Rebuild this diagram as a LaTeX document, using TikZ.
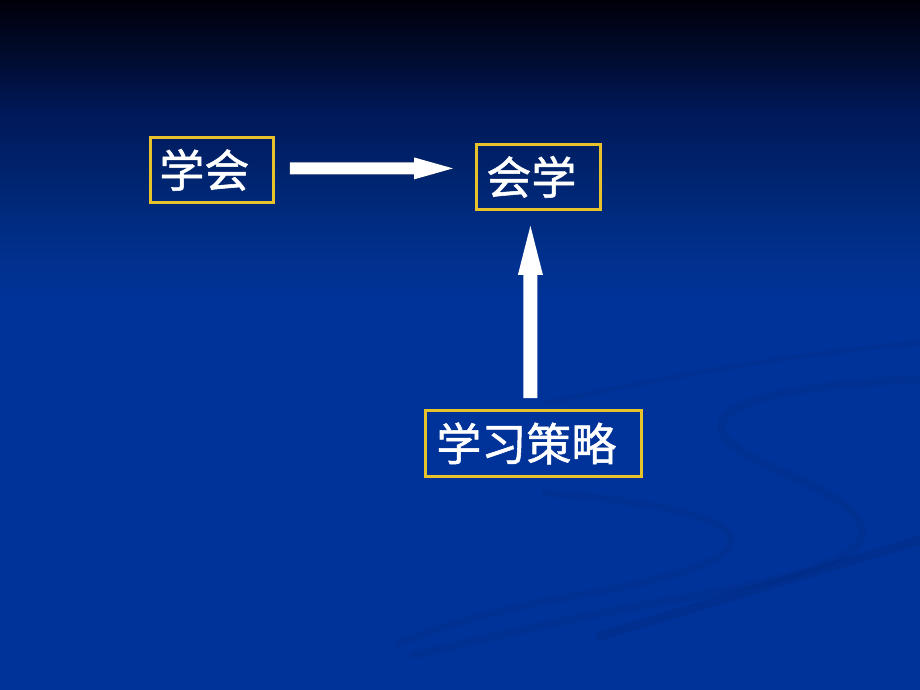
\documentclass[tikz,border=0pt]{standalone}
\usepackage{fontspec}
\newfontfamily\cjk[FakeBold=1.2]{Noto Sans CJK SC}
\usetikzlibrary{calc}
\definecolor{bgblue}{HTML}{003399}
\definecolor{bgA}{HTML}{00318F}
\definecolor{bgB}{HTML}{002570}
\definecolor{bgC}{HTML}{001858}
\definecolor{bgD}{HTML}{000A2A}
\definecolor{bgE}{HTML}{00000A}
\definecolor{boxgold}{HTML}{E8C22A}
\definecolor{swoosh}{HTML}{00287A}
\pgfdeclareverticalshading{bgshade}{100bp}{color(0bp)=(bgblue); color(25bp)=(bgblue); color(53bp)=(bgblue); color(56bp)=(bgA); color(62bp)=(bgB); color(67bp)=(bgC); color(71.4bp)=(bgD); color(75bp)=(bgE); color(100bp)=(bgE)}
\tikzset{
  box/.style={draw=boxgold, line width=2.8pt, anchor=north west, inner ysep=0pt,
    align=left, text=white, font=\cjk\fontsize{45}{50}\selectfont},
  sw/.style={draw=swoosh, line cap=round, opacity=0.22},
  blockarrow/.style={fill=white},
  arrowshadow/.style={fill=black!85!blue, opacity=0.8}
}
\begin{document}
\begin{tikzpicture}[x=1pt,y=-1pt]
\useasboundingbox (0,0) rectangle (920,690);
\shade[shading=bgshade] (0,0) rectangle (920,690);
% background swooshes
\draw[sw, line width=5pt] (545,403) .. controls (650,380) and (800,352) .. (920,343);
\draw[sw, line width=8pt] (920,379) .. controls (800,385) and (718,400) .. (721,428)
   .. controls (725,462) and (850,485) .. (862,528)
   .. controls (870,565) and (760,585) .. (655,603)
   .. controls (560,620) and (480,640) .. (414,655);
\draw[sw, line width=7pt] (545,493) .. controls (640,500) and (728,515) .. (731,540)
   .. controls (734,565) and (640,585) .. (552,600)
   .. controls (480,614) and (430,630) .. (397,644);
\draw[sw, line width=9pt, opacity=0.3] (600,636) .. controls (720,600) and (820,570) .. (920,540);
% boxes
\node[box, minimum height=65pt, text width=105pt, inner xsep=9pt] (xuehui) at (149,136) {学会};
\node[box, minimum height=65pt, text width=104pt, inner xsep=10pt] (huixue) at (475,143) {会学};
\node[box, minimum height=66pt, text width=194pt, inner xsep=11pt] (celue) at (424,409) {学习策略};
% horizontal arrow
\coordinate (h1) at ($(xuehui.east)+(15,-1.5)$);
\coordinate (h2t) at ($(huixue.west)+(-22,0)$);
\coordinate (h2) at (h2t |- h1);
\begin{scope}[shift={(2,2)}]
\fill[arrowshadow] ($(h1)+(0,-6)$) -- ($(h2)+(-39,-6)$) -- ($(h2)+(-39,-11)$) -- (h2)
  -- ($(h2)+(-39,11)$) -- ($(h2)+(-39,6)$) -- ($(h1)+(0,6)$) -- cycle;
\end{scope}
\fill[blockarrow] ($(h1)+(0,-6)$) -- ($(h2)+(-39,-6)$) -- ($(h2)+(-39,-11)$) -- (h2)
  -- ($(h2)+(-39,11)$) -- ($(h2)+(-39,6)$) -- ($(h1)+(0,6)$) -- cycle;
% vertical arrow
\coordinate (v1) at ($(celue.north)+(-3,-11)$);
\coordinate (v2t) at ($(huixue.south)+(0,15)$);
\coordinate (v2) at (v1 |- v2t);
\fill[blockarrow] ($(v1)+(-7,0)$) -- ($(v2)+(-7,49)$) -- ($(v2)+(-12.5,49)$) -- (v2)
  -- ($(v2)+(12.5,49)$) -- ($(v2)+(7,49)$) -- ($(v1)+(7,0)$) -- cycle;
\end{tikzpicture}
\end{document}
